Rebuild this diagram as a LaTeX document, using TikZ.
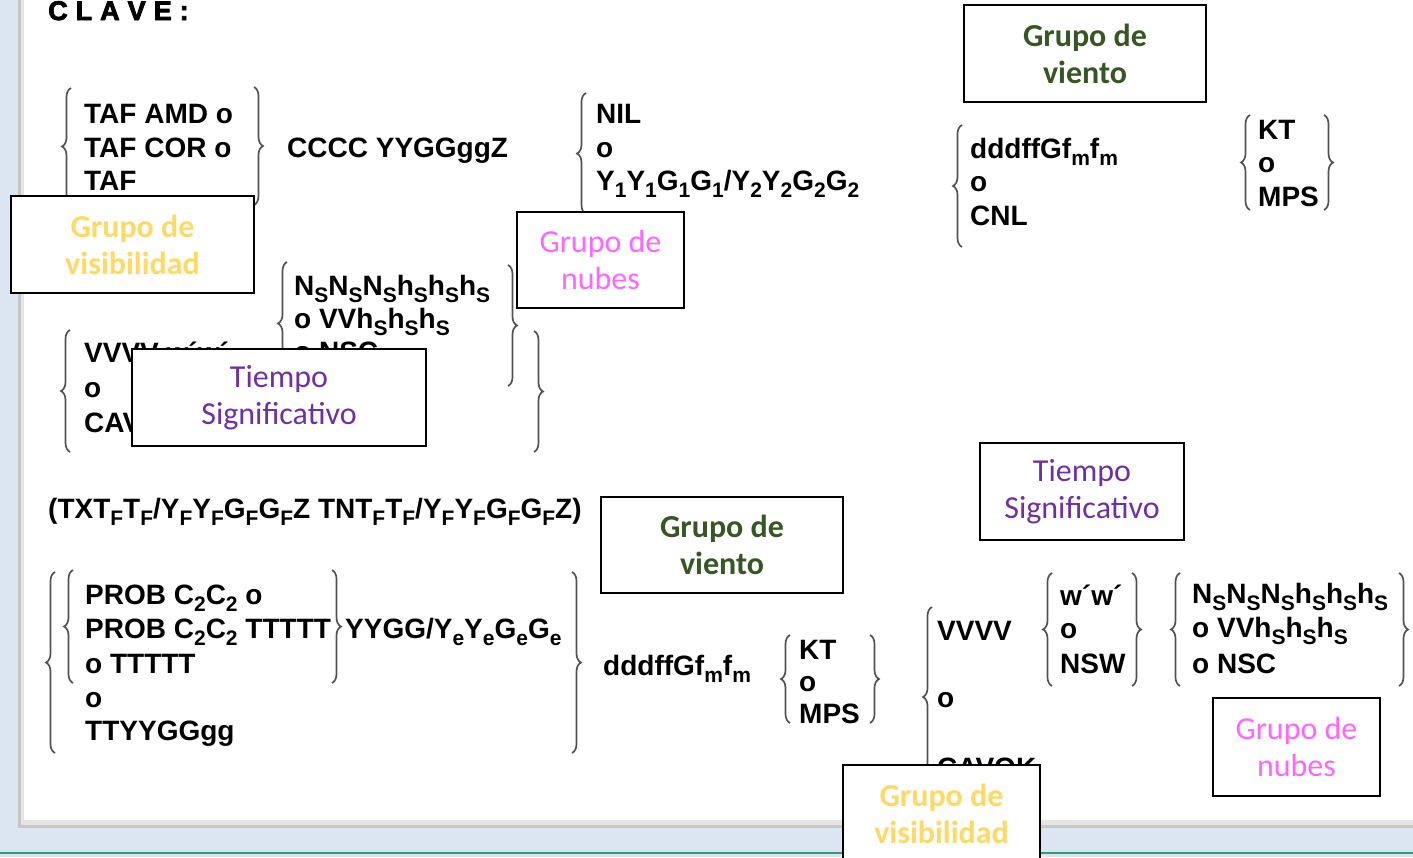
\documentclass[tikz,border=0pt]{standalone}
\usepackage{fontspec}
\setmainfont{Liberation Sans}
\newfontfamily\calib{Carlito}
\newfontfamily\heavyfont[FakeBold=3]{Liberation Sans Bold}
\usetikzlibrary{decorations.pathreplacing}
\definecolor{bgblue}{HTML}{DCE6F2}
\definecolor{visY}{HTML}{FFD966}
\definecolor{windG}{HTML}{375623}
\definecolor{cloudP}{HTML}{FF66FF}
\definecolor{sigP}{HTML}{7030A0}
\definecolor{lineG}{HTML}{2E9E7A}
\newcommand{\sbs}[1]{\raisebox{-7pt}{\fontsize{21}{21}\selectfont #1}}
\newcommand{\gp}{\hspace{8pt}}
\tikzset{
  code/.style={anchor=base west, inner sep=0pt, text=black, font={\fontsize{28}{34}\selectfont\bfseries}},
  brc/.style={draw=black!68, line width=1.7pt, decorate, decoration={brace, amplitude=9pt}},
  lbl/.style={draw=black, line width=2.4pt, fill=white, align=center, inner sep=0pt},
  lblbold/.style={lbl, font={\calib\fontsize{32}{37}\selectfont\bfseries}},
  lblreg/.style={lbl, font={\calib\fontsize{32}{37}\selectfont}}
}
\begin{document}
\begin{tikzpicture}[x=1pt,y=-1pt]
\useasboundingbox (0,0) rectangle (1413,857);
% background
\fill[bgblue] (0,0) rectangle (1413,857);
\fill[black!22] (18,-10) rectangle (1420,828);
\fill[black!10] (21,-10) rectangle (1420,825);
\fill[white] (24,-10) rectangle (1420,820);
\draw[lineG, line width=2.5pt] (0,853) -- (1413,853);

% title
\node[anchor=base west, inner sep=0pt, font={\heavyfont\fontsize{27}{27}\selectfont}] (clave) at (48,20) {C\gp L\gp A\gp V\gp E\gp :};

% block 1
\draw[brc] (71,205) -- (71,88);
\node[code] (taf1) at (84,123) {TAF AMD o};
\node[code] (taf2) at (84,157) {TAF COR o};
\node[code] (taf3) at (84,190) {TAF};
\draw[brc] (254,87) -- (254,205);
\node[code] (cccc) at (287,157) {CCCC YYGGggZ};

% cloud 1
\draw[brc] (586,214) -- (586,93);
\node[code] (nil) at (596,123) {NIL};
\node[code] (nilo) at (596,157) {o};
\node[code] (yy) at (596,190) {Y\sbs{1}Y\sbs{1}G\sbs{1}G\sbs{1}/Y\sbs{2}Y\sbs{2}G\sbs{2}G\sbs{2}};

% wind 1
\draw[brc] (962,247) -- (962,125);
\node[code] (ddd1) at (970,158) {dddffGf\sbs{m}f\sbs{m}};
\node[code] (wo1) at (970,191) {o};
\node[code] (cnl) at (970,225) {CNL};
\draw[brc] (1250,210) -- (1250,115);
\node[code] (kt1) at (1258,139) {KT};
\node[code] (kto1) at (1258,172) {o};
\node[code] (mps1) at (1258,206) {MPS};
\draw[brc] (1324,115) -- (1324,210);

% row 2
\draw[brc] (287,385) -- (287,262);
\node[code] (ns1) at (294,295) {N\sbs{S}N\sbs{S}N\sbs{S}h\sbs{S}h\sbs{S}h\sbs{S}};
\node[code] (vv1) at (294,328) {o VVh\sbs{S}h\sbs{S}h\sbs{S}};
\node[code] (nsc1) at (294,361) {o NSC};
\draw[brc] (508,265) -- (508,386);
\draw[brc] (534,331) -- (534,452);
\draw[brc] (70,452) -- (70,330);
\node[code] (vvvv1) at (84,362) {VVVV w´w´};
\node[code] (vo1) at (84,397) {o};
\node[code] (cavok1) at (84,432) {CAVOK};

% row 3
\node[code] (temp) at (48,518) {(TXT\sbs{F}T\sbs{F}/Y\sbs{F}Y\sbs{F}G\sbs{F}G\sbs{F}Z TNT\sbs{F}T\sbs{F}/Y\sbs{F}Y\sbs{F}G\sbs{F}G\sbs{F}Z)};

% bottom left
\draw[brc] (55,753) -- (55,572);
\draw[brc] (73,683) -- (73,570);
\node[code] (p1) at (85,604) {PROB C\sbs{2}C\sbs{2} o};
\node[code] (p2) at (85,638) {PROB C\sbs{2}C\sbs{2} TTTTT};
\node[code] (p3) at (85,673) {o TTTTT};
\node[code] (p4) at (85,707) {o};
\node[code] (p5) at (85,740) {TTYYGGgg};
\draw[brc] (332,570) -- (332,683);
\node[code] (yygg) at (345,638) {YYGG/Y\sbs{e}Y\sbs{e}G\sbs{e}G\sbs{e}};
\draw[brc] (572,572) -- (572,753);
\node[code] (ddd2) at (603,675) {dddffGf\sbs{m}f\sbs{m}};
\draw[brc] (790,723) -- (790,635);
\node[code] (kt2) at (799,659) {KT};
\node[code] (kto2) at (799,691) {o};
\node[code] (mps2) at (799,723) {MPS};
\draw[brc] (870,635) -- (870,723);

% visibility bottom
\draw[brc] (932,787) -- (932,607);
\node[code] (vvvv2) at (937,640) {VVVV};
\node[code] (vo2) at (937,707) {o};
\node[code] (cavok2) at (937,777) {CAVOK};

% weather bottom
\draw[brc] (1052,686) -- (1052,573);
\node[code] (ww) at (1060,605) {w´w´};
\node[code] (wwo) at (1060,638) {o};
\node[code] (nsw) at (1060,673) {NSW};
\draw[brc] (1132,573) -- (1132,686);

% clouds bottom
\draw[brc] (1180,686) -- (1180,573);
\node[code] (ns2) at (1192,603) {N\sbs{S}N\sbs{S}N\sbs{S}h\sbs{S}h\sbs{S}h\sbs{S}};
\node[code] (vv2) at (1192,637) {o VVh\sbs{S}h\sbs{S}h\sbs{S}};
\node[code] (nsc2) at (1192,673) {o NSC};
\draw[brc] (1399,573) -- (1399,686);

% label boxes
\node[lblbold, text=visY, minimum width=243pt, minimum height=97pt] (vis1) at (132.5,244.5) {Grupo de\\visibilidad};
\node[lblreg, text=cloudP, minimum width=167pt, minimum height=96pt] (nub1) at (600.5,260) {Grupo de\\nubes};
\node[lblbold, text=windG, minimum width=242pt, minimum height=97pt] (vie1) at (1085,53.5) {Grupo de\\viento};
\node[lblreg, text=sigP, minimum width=294pt, minimum height=97pt] (tie1) at (279,397.5) {Tiempo\\Significativo};
\node[lblbold, text=windG, minimum width=242pt, minimum height=96pt] (vie2) at (722,545) {Grupo de\\viento};
\node[lblreg, text=sigP, minimum width=204pt, minimum height=97pt] (tie2) at (1082,491.5) {Tiempo\\Significativo};
\node[lblbold, text=visY, minimum width=197pt, minimum height=98pt] (vis2) at (941.5,814) {Grupo de\\visibilidad};
\node[lblreg, text=cloudP, minimum width=167pt, minimum height=98pt] (nub2) at (1296.5,747) {Grupo de\\nubes};
\end{tikzpicture}
\end{document}
